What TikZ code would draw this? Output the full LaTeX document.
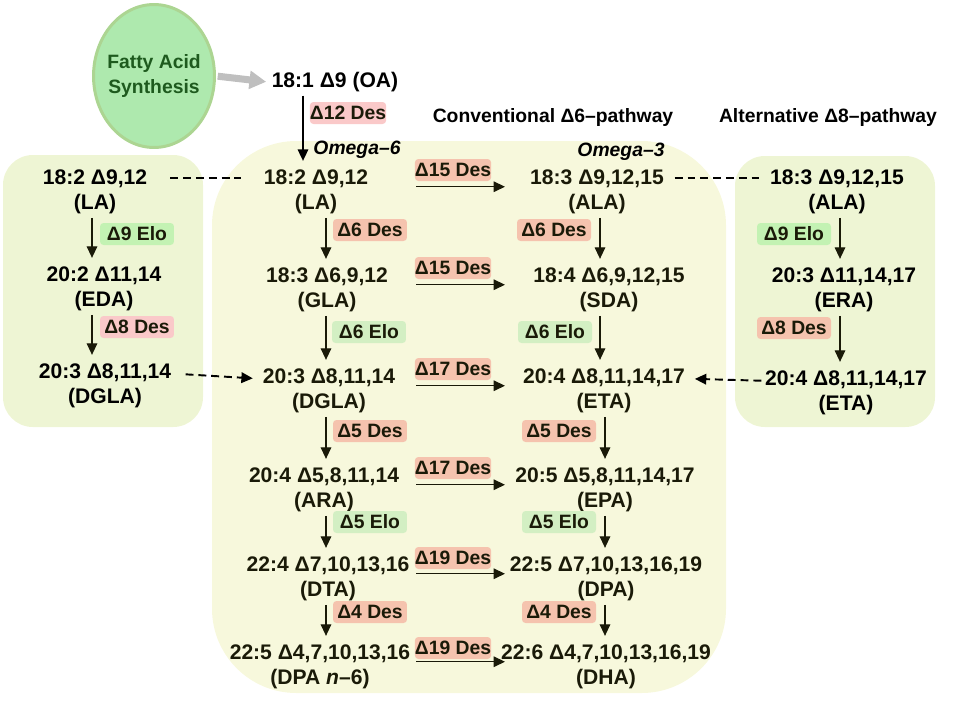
\documentclass[tikz,border=0pt]{standalone}
\usepackage{fontspec}
\setmainfont{Liberation Sans}
\usetikzlibrary{arrows.meta,shapes.geometric}
\definecolor{boxmid}{HTML}{F7F8DC}
\definecolor{boxside}{HTML}{EEF5D4}
\definecolor{desred}{HTML}{F5C3AE}
\definecolor{despink}{HTML}{FAC9C9}
\definecolor{elogreen}{HTML}{D3EFC3}
\definecolor{elolime}{HTML}{C3F2B3}
\definecolor{fasfill}{HTML}{AEE9AE}
\definecolor{fasline}{HTML}{ACD592}
\definecolor{fastext}{HTML}{1E5A1E}
\definecolor{inkdark}{HTML}{1A1A08}
\begin{document}
\begin{tikzpicture}[x=0.02cm, y=-0.02cm, line join=round, >={Triangle[length=6.5pt,width=6pt]},
    fa/.style={align=center, inner sep=2pt, text=inkdark, font=\fontsize{12}{14.2}\selectfont\bfseries},
    enz/.style={rounded corners=2pt, minimum width=1.48cm, minimum height=0.44cm, inner sep=0pt, text=inkdark, font=\fontsize{11}{12}\selectfont\bfseries},
    des/.style={enz, fill=desred},
    desp/.style={enz, fill=despink},
    elo/.style={enz, fill=elogreen},
    elol/.style={enz, fill=elolime},
    hdr/.style={font=\fontsize{11}{12}\selectfont\bfseries},
    omg/.style={font=\fontsize{11}{12}\selectfont\bfseries\itshape},
    va/.style={->, draw=inkdark, line width=0.6pt, shorten >=3pt},
    ha/.style={->, draw=inkdark, line width=0.8pt},
    dl/.style={draw=black, line width=1.1pt, dash pattern=on 4.5pt off 2.8pt}]
    \useasboundingbox (0,0) rectangle (953,700);
    % backgrounds
    \fill[boxside, rounded corners=17pt] (3,155) rectangle (203,427);
    \fill[boxmid, rounded corners=48pt] (212,141) rectangle (726,693);
    \fill[boxside, rounded corners=17pt] (735,156) rectangle (935,427);
    % columns of the arrows
    \coordinate (cL) at (92,0);
    \coordinate (cO) at (303,0);
    \coordinate (c6) at (326,0);
    \coordinate (c3) at (600,0);
    \coordinate (c3b) at (605,0);
    \coordinate (cR) at (840,0);
    \coordinate (hs) at (416,0);
    \coordinate (he) at (505,0);
    % top
    \node[ellipse, draw=fasline, fill=fasfill, line width=1.7pt, inner sep=0pt,
        minimum width=2.42cm, minimum height=2.86cm] (fas) at (154,76) {};
    \node[align=center, text=fastext, font=\fontsize{11}{14.2}\selectfont\bfseries] (fastxt) at (fas.center) {Fatty Acid\\Synthesis};
    \node[fa, text=black] (oa) at (335,82) {18:1 Δ9 (OA)};
    \node[hdr] (hconv) at (553,117) {Conventional Δ6--pathway};
    \node[hdr] (halt) at (828,117) {Alternative Δ8--pathway};
    \node[omg] (om6) at (357,150) {Omega--6};
    \node[omg] (om3) at (621,152) {Omega--3};
    % left box
    \node[fa, text=black] (laL) at (95,192) {18:2 Δ9,12\\(LA)};
    \node[fa, text=black] (edaL) at (104,289) {20:2 Δ11,14\\(EDA)};
    \node[fa, text=black] (dglaL) at (105,386) {20:3 Δ8,11,14\\(DGLA)};
    % omega-6
    \node[fa] (la) at (316,192) {18:2 Δ9,12\\(LA)};
    \node[fa] (gla) at (327,290) {18:3 Δ6,9,12\\(GLA)};
    \node[fa] (dgla) at (329,391) {20:3 Δ8,11,14\\(DGLA)};
    \node[fa] (ara) at (324,490) {20:4 Δ5,8,11,14\\(ARA)};
    \node[fa] (dta) at (328,579) {22:4 Δ7,10,13,16\\(DTA)};
    \node[fa] (dpa6) at (320,667) {22:5 Δ4,7,10,13,16\\(DPA \textit{n}--6)};
    % omega-3
    \node[fa] (ala) at (597,192) {18:3 Δ9,12,15\\(ALA)};
    \node[fa] (sda) at (609,290) {18:4 Δ6,9,12,15\\(SDA)};
    \node[fa] (eta) at (604,391) {20:4 Δ8,11,14,17\\(ETA)};
    \node[fa] (epa) at (605,490) {20:5 Δ5,8,11,14,17\\(EPA)};
    \node[fa] (dpa) at (606,579) {22:5 Δ7,10,13,16,19\\(DPA)};
    \node[fa] (dha) at (606,667) {22:6 Δ4,7,10,13,16,19\\(DHA)};
    % right box
    \node[fa, text=black] (alaR) at (837,192) {18:3 Δ9,12,15\\(ALA)};
    \node[fa, text=black] (era) at (844,290) {20:3 Δ11,14,17\\(ERA)};
    \node[fa, text=black] (etaR) at (846,393) {20:4 Δ8,11,14,17\\(ETA)};
    % enzymes
    \node[desp] (d12) at (348,113) {Δ12 Des};
    \node[elol] (e9L) at (137,234) {Δ9 Elo};
    \node[desp] (d8L) at (137,327) {Δ8 Des};
    \node[des] (d6a) at (370,230) {Δ6 Des};
    \node[elo] (e6a) at (369,332) {Δ6 Elo};
    \node[des] (d5a) at (370,431) {Δ5 Des};
    \node[elo] (e5a) at (370,522) {Δ5 Elo};
    \node[des] (d4a) at (370,612) {Δ4 Des};
    \node[des] (d6b) at (554,230) {Δ6 Des};
    \node[elo] (e6b) at (555,332) {Δ6 Elo};
    \node[des] (d5b) at (559,431) {Δ5 Des};
    \node[elo] (e5b) at (559,522) {Δ5 Elo};
    \node[des] (d4b) at (559,612) {Δ4 Des};
    \node[elol] (e9R) at (794,234) {Δ9 Elo};
    \node[des] (d8R) at (794,328) {Δ8 Des};
    \node[des] (d15a) at (453,170) {Δ15 Des};
    \node[des] (d15b) at (453,268) {Δ15 Des};
    \node[des] (d17a) at (453,369) {Δ17 Des};
    \node[des] (d17b) at (453,468) {Δ17 Des};
    \node[des] (d19a) at (453,558) {Δ19 Des};
    \node[des] (d19b) at (453,648) {Δ19 Des};
    % connectors
    \draw[-{Triangle[length=9.5pt,width=10pt]}, line width=4pt, draw=black!25, shorten <=1pt, shorten >=1pt] (fas.east) -- (oa.west);
    \draw[va, draw=black, line width=0.8pt] (oa.south -| cO) -- (la.north -| cO);
    \foreach \a/\b/\c in {laL/edaL/cL, edaL/dglaL/cL, la/gla/c6, gla/dgla/c6, dgla/ara/c6, ara/dta/c6, dta/dpa6/c6,
        ala/sda/c3, sda/eta/c3, eta/epa/c3b, epa/dpa/c3b, dpa/dha/c3b, alaR/era/cR, era/etaR/cR}
        \draw[va] (\a.south -| \c) -- (\b.north -| \c);
    \foreach \a/\b in {la/ala, gla/sda, dgla/eta, ara/epa, dta/dpa, dpa6/dha}
        \draw[ha] ([yshift=3pt]\a -| hs) -- ([yshift=3pt]\b -| he);
    \draw[dl, shorten <=11pt, shorten >=11pt] ([yshift=8pt]laL.east) -- ([yshift=8pt]la.west);
    \draw[dl, shorten <=4pt, shorten >=4pt] ([yshift=8pt]ala.east) -- ([yshift=8pt]alaR.west);
    \draw[dl, ->, shorten <=6pt, shorten >=3.5pt] ([yshift=7pt]dglaL.east) -- ([yshift=7pt]dgla.west);
    \draw[dl, ->, shorten >=3.5pt] ([yshift=7pt]etaR.west) -- ([yshift=7pt]eta.east);
\end{tikzpicture}
\end{document}
